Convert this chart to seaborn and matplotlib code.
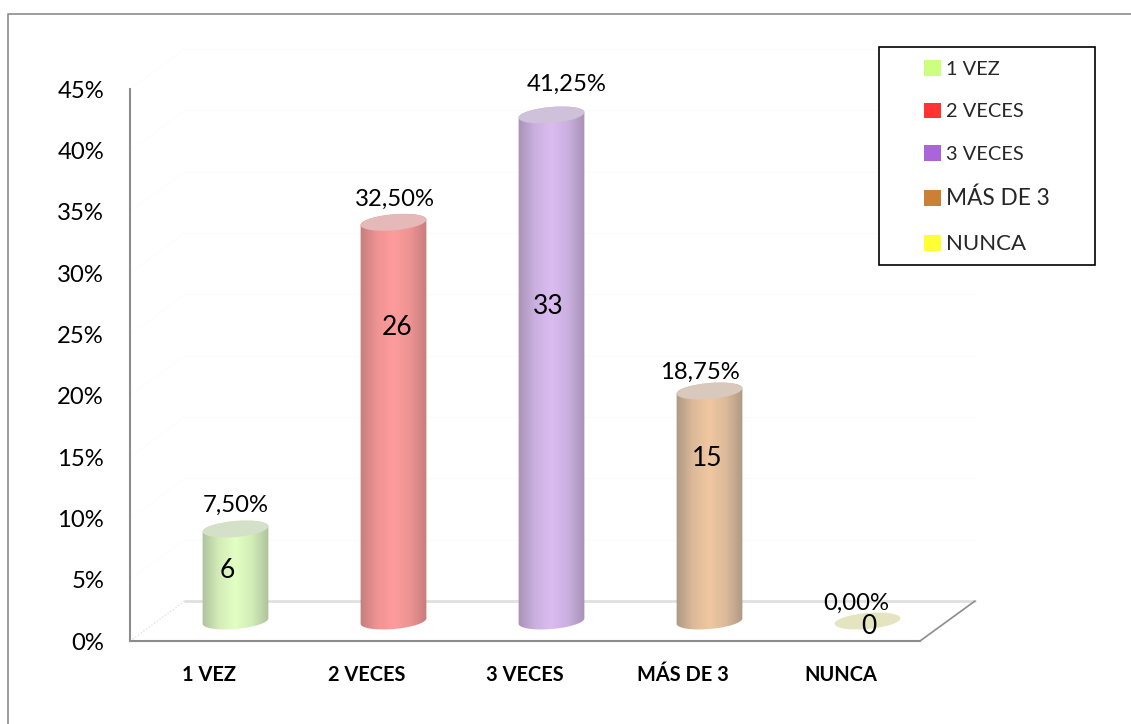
import numpy as np
import matplotlib
matplotlib.use("Agg")
import matplotlib.pyplot as plt
import seaborn as sns
from matplotlib.colors import LinearSegmentedColormap, to_rgb
from matplotlib.lines import Line2D
from matplotlib.patches import Ellipse, Patch, Rectangle
from matplotlib.path import Path
from matplotlib.ticker import FuncFormatter
from matplotlib.transforms import IdentityTransform

categorias = ["1 VEZ", "2 VECES", "3 VECES", "MÁS DE 3", "NUNCA"]
porcentajes = [7.5, 32.5, 41.25, 18.75, 0.0]
conteos = [6, 26, 33, 15, 0]
marcas_y = [0, 5, 10, 15, 20, 25, 30, 35, 40, 45]

# colores: borde, centro y tapa de cada cilindro
borde = ["#aec29e", "#c67d7d", "#a892b6", "#ae9885", "#e4e4c0"]
centro = ["#e3ffc2", "#ff9c9c", "#dabcf2", "#f0c8a2", "#e4e4c0"]
tapa = ["#d5e0c8", "#e6b9b9", "#cec1d9", "#d9c9bd", "#e4e4c0"]
leyenda_col = ["#ccff80", "#ff3333", "#a866d8", "#cc8033", "#ffff33"]

# ajustes a mano de las etiquetas, en pixeles respecto a la tapa
ajuste_pct = [(0, 24), (1, 23), (15, 31), (-10, 19), (-11, 18)]
ajuste_cnt = [(-8, -41), (4, -105), (-3, -192), (-2, -67), (1, -6)]

W, H = 1131, 724
GRIS = "#8c8c8c"

sns.set_theme(style="white")
plt.rcParams["font.family"] = ["Lato", "DejaVu Sans"]

fig = plt.figure(figsize=(W / 100, H / 100), dpi=100)


def caja(x0, x1, y0, y1):
    return [x0 / W, 1 - y1 / H, (x1 - x0) / W, (y1 - y0) / H]


# ejes principales
ax = fig.add_axes(caja(130, 920, 89, 641), facecolor="none")
ax.set_xlim(-0.5, 4.5)
ax.set_ylim(0, 45)
ax.set_xticks(range(len(categorias)))
ax.set_xticklabels(categorias, fontsize=14.4, fontweight="bold", color="black", va="baseline")
ax.set_yticks(marcas_y)
ax.yaxis.set_major_formatter(FuncFormatter(lambda v, p: f"{v:.0f}%"))
ax.tick_params(axis="y", length=0, pad=18.7, labelsize=17.2, labelcolor="black")
ax.tick_params(axis="x", length=0, pad=28.8)
sns.despine(ax=ax)
for lado in ["left", "bottom"]:
    ax.spines[lado].set_color(GRIS)
    ax.spines[lado].set_linewidth(1.5)

# pared y suelo en perspectiva
FONDO_X, FONDO_Y = 55, 40
for m in marcas_y:
    x0, y0 = ax.transData.transform((-0.5, m))
    x1, y1 = ax.transData.transform((4.5, m))
    col = "#e0e0e0" if m == 0 else "#fbfbfb"
    fig.add_artist(Line2D([x0 + FONDO_X, x1 + FONDO_X], [y0 + FONDO_Y, y1 + FONDO_Y],
                          transform=IdentityTransform(), color=col,
                          lw=2 if m == 0 else 0.8, zorder=0))
    fig.add_artist(Line2D([x0, x0 + FONDO_X], [y0, y0 + FONDO_Y],
                          transform=IdentityTransform(),
                          color="#dcdcdc" if m == 0 else "#f9f9f9",
                          lw=0.9, ls=":", zorder=0))
x1, y1 = ax.transData.transform((4.5, 0))
fig.add_artist(Line2D([x1, x1 + FONDO_X], [y1, y1 + FONDO_Y],
                      transform=IdentityTransform(), color=GRIS, lw=1.2, zorder=0))

# cilindros, desplazados hacia el fondo
ax2 = fig.add_axes(caja(156.5, 946.5, 69, 621), facecolor="none")
ax2.set_zorder(ax.get_zorder() + 1)
sns.barplot(x=categorias, y=porcentajes, hue=categorias, palette=borde, width=0.418,
            legend=False, ax=ax2, saturation=1)
ax2.set_xlim(-0.5, 4.5)
ax2.set_ylim(0, 45)
ax2.set_autoscale_on(False)
ax2.axis("off")

ANCHO, ALTO, GIRO = 66, 16, 5
cos_g, sin_g = np.cos(np.radians(GIRO)), np.sin(np.radians(GIRO))


def borde_elipse(cx, cy, t):
    ex, ey = ANCHO / 2 * np.cos(t), ALTO / 2 * np.sin(t)
    return np.column_stack([cx + ex * cos_g - ey * sin_g, cy + ex * sin_g + ey * cos_g])


for i, barra in enumerate(ax2.patches):
    v = porcentajes[i]
    cx, cy0 = ax2.transData.transform((i, 0))
    _, cy1 = ax2.transData.transform((i, v))
    if v > 0:
        contorno = np.vstack([
            borde_elipse(cx, cy0, np.linspace(np.pi, 2 * np.pi, 40)),
            borde_elipse(cx, cy1, np.linspace(0, np.pi, 40)),
        ])
        medio = 0.3 * np.array(to_rgb(borde[i])) + 0.7 * np.array(to_rgb(centro[i]))
        cmap = LinearSegmentedColormap.from_list(
            "c", [(0, borde[i]), (0.25, medio), (0.5, centro[i]), (0.75, medio), (1, borde[i])])
        izq, der = barra.get_x(), barra.get_x() + barra.get_width()
        im = ax2.imshow(np.linspace(0, 1, 128).reshape(1, -1), cmap=cmap, aspect="auto",
                        extent=(izq, der, -2, v + 2), zorder=3)
        im.set_clip_box(fig.bbox)
        im.set_clip_path(Path(np.vstack([contorno, contorno[0]]), closed=True), IdentityTransform())
        barra.set_visible(False)
    ax2.add_patch(Ellipse((cx, cy1), ANCHO, ALTO, angle=GIRO, transform=IdentityTransform(),
                          facecolor=tapa[i], edgecolor="none", zorder=4, clip_on=False))
    ax2.annotate(f"{v:.2f}".replace(".", ",") + "%", xy=(i, v),
                 xytext=(ajuste_pct[i][0] * 0.72, ajuste_pct[i][1] * 0.72),
                 textcoords="offset points", ha="center", va="center",
                 fontsize=17.2, color="black", zorder=6, annotation_clip=False)
    ax2.annotate(str(conteos[i]), xy=(i, v),
                 xytext=(ajuste_cnt[i][0] * 0.72, ajuste_cnt[i][1] * 0.72),
                 textcoords="offset points", ha="center", va="center",
                 fontsize=19, color="black", zorder=6, annotation_clip=False)

# marco gris de la imagen
fig.add_artist(Line2D([8 / W, 8 / W, 1], [0, 1 - 13.5 / H, 1 - 13.5 / H], color=GRIS, lw=1.2))

# leyenda
fig.add_artist(Rectangle((879 / W, 1 - 264.5 / H), 216 / W, 218 / H, transform=fig.transFigure,
                         facecolor="white", edgecolor="black", lw=1.2, zorder=5))
manejadores = [Patch(facecolor=c, edgecolor="none") for c in leyenda_col]
ley = fig.legend(manejadores, categorias, loc="upper left", frameon=False, fontsize=14.4,
                 bbox_to_anchor=(915.5 / W, 1 - 52 / H), borderaxespad=0, borderpad=0.4,
                 handlelength=0.85, handleheight=0.82, handletextpad=0.3, labelspacing=1.24)
ley.set_zorder(6)
for t, tam in zip(ley.get_texts(), [14.4, 14.4, 14.4, 16.3, 16]):
    t.set_fontsize(tam)

fig.savefig("out.png", dpi=100, facecolor="white")
